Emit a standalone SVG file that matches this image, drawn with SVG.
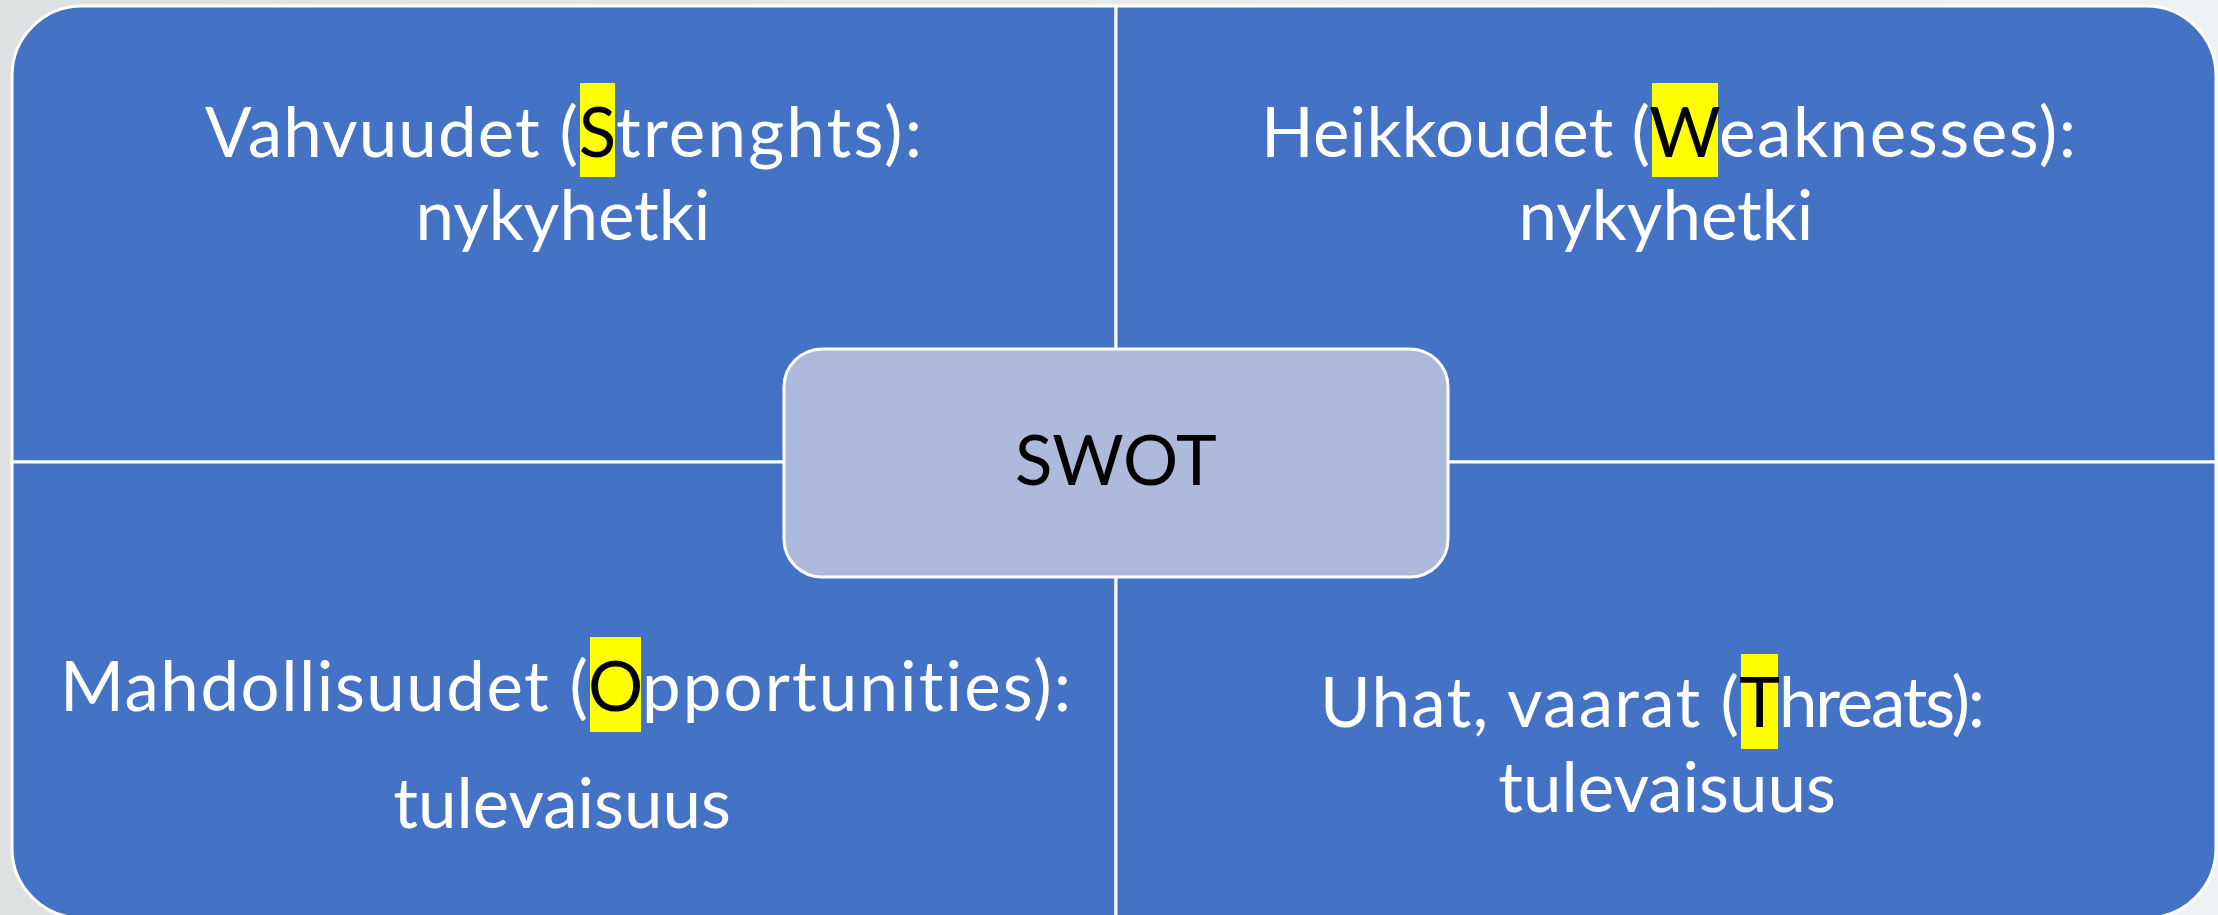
<svg xmlns="http://www.w3.org/2000/svg" width="2218" height="915" viewBox="0 0 2218 915">
<defs>
<linearGradient id="bg" x1="0" y1="0" x2="1" y2="0">
<stop offset="0" stop-color="#dde1e1"/>
<stop offset="1" stop-color="#eef2f5"/>
</linearGradient>
<style>
.quad{fill:#4472c4;stroke:#ffffff;stroke-width:3}
.lbl{font-family:Lato,"Liberation Sans",sans-serif;font-size:69px;fill:#ffffff;font-variant-ligatures:none;font-feature-settings:"liga" 0,"dlig" 0}
.hl{fill:#ffff00}
.key{font-family:Lato,"Liberation Sans",sans-serif;font-size:69px;fill:#000000;text-anchor:middle}
.mid{text-anchor:middle}
.center{fill:#aebadc;stroke:#ffffff;stroke-width:3}
</style>
</defs>
<rect x="0" y="0" width="2218" height="915" fill="url(#bg)"/>
<g id="connectors"></g>
<g id="strengths">
<path class="quad" d="M12,462 V76 A70,70 0 0 1 82,6 H1116 V462 Z"/>
<rect class="hl" x="580" y="83" width="35" height="94"/>
<text class="lbl" x="205" y="157" textLength="373">Vahvuudet (</text>
<text class="key" x="597.5" y="157">S</text>
<text class="lbl" x="616" y="157" textLength="306">trenghts):</text>
<text class="lbl mid" x="563" y="240">nykyhetki</text>
</g>
<g id="weaknesses">
<path class="quad" d="M1116,6 H2146 A70,70 0 0 1 2216,76 V462 H1116 Z"/>
<rect class="hl" x="1652" y="83" width="66" height="94"/>
<text class="lbl" x="1261" y="157" textLength="389">Heikkoudet (</text>
<text class="key" x="1685" y="157">W</text>
<text class="lbl" x="1719" y="157" textLength="357">eaknesses):</text>
<text class="lbl mid" x="1666" y="240">nykyhetki</text>
</g>
<g id="opportunities">
<path class="quad" d="M12,462 H1116 V918 H82 A70,70 0 0 1 12,848 Z"/>
<rect class="hl" x="590" y="637" width="51" height="95"/>
<text class="lbl" x="60" y="711" textLength="528">Mahdollisuudet (</text>
<text class="key" x="615.5" y="711">O</text>
<text class="lbl" x="642" y="711" textLength="429">pportunities):</text>
<text class="lbl mid" x="562" y="828">tulevaisuus</text>
</g>
<g id="threats">
<path class="quad" d="M1116,462 H2216 V848 A70,70 0 0 1 2146,918 H1116 Z"/>
<rect class="hl" x="1741" y="654" width="37" height="95"/>
<text class="lbl" x="1320" y="727" textLength="419">Uhat, vaarat (</text>
<text class="key" x="1759.5" y="727">T</text>
<text class="lbl" x="1779" y="727" textLength="206">hreats):</text>
<text class="lbl mid" x="1667" y="812">tulevaisuus</text>
</g>
<g id="swot">
<rect class="center" x="784" y="349" width="664" height="228" rx="38" ry="38"/>
<text class="key" x="1116" y="485" font-size="67">SWOT</text>
</g>
</svg>
